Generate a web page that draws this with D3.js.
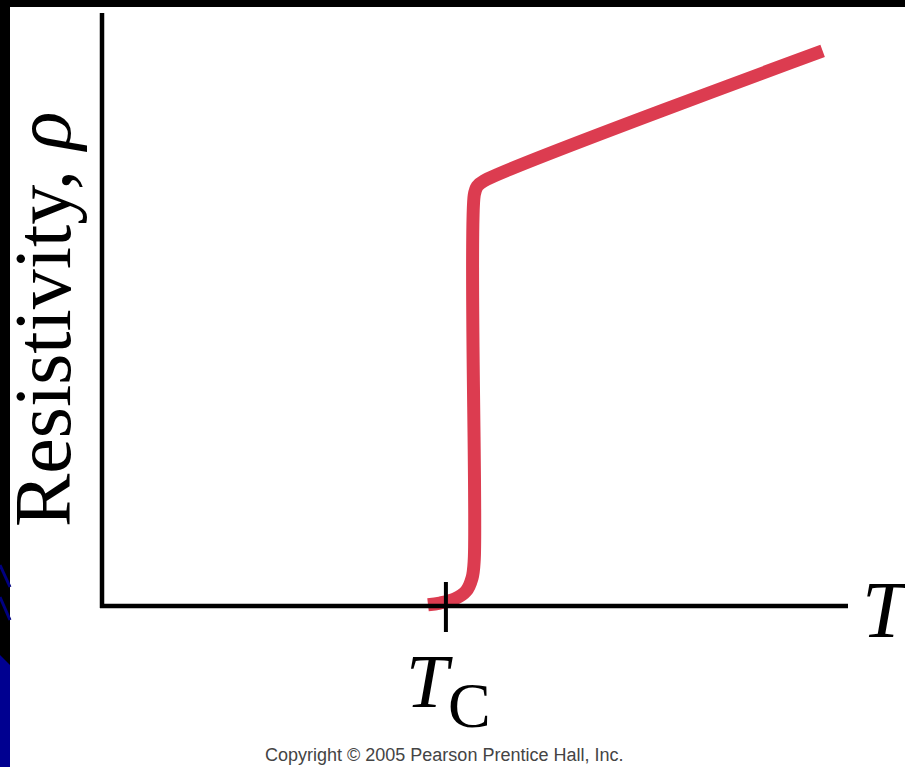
<!DOCTYPE html>
<html>
<head>
<meta charset="utf-8">
<script src="https://cdn.jsdelivr.net/npm/d3@7"></script>
<style>
  html, body { margin: 0; padding: 0; background: #000; }
  svg { display: block; }
</style>
</head>
<body>
<svg id="chart" width="905" height="767"></svg>
<script>
// Resistivity vs temperature for a superconductor (arbitrary units)
const curveT   = [4.37, 4.53, 4.73, 4.88, 4.96, 4.99, 4.99, 5.03, 5.12, 9.66];
const curveRho = [0.02, 0.05, 0.12, 0.25, 0.47, 0.78, 6.93, 7.08, 7.17, 9.36];
const tcValue = 4.61;
const xMax = 10;
const yMax = 10;
const yLabel = 'Resistivity, ';
const xLabel = 'T';
const tcLabel = 'T';
const tcSub = 'C';
const copyright = 'Copyright © 2005 Pearson Prentice Hall, Inc.';

const svg = d3.select('#chart');
const W = 905, H = 767;

// fondo: marco negro, panel blanco y restos de la diapositiva azul a la izquierda
svg.append('rect').attr('width', W).attr('height', H).attr('fill', '#000');
svg.append('rect').attr('x', 10).attr('y', 7).attr('width', W - 10).attr('height', H - 7).attr('fill', '#fff');
svg.append('path').attr('d', 'M0,655 L10,665 L10,767 L0,767 Z').attr('fill', '#000090');
svg.append('path').attr('d', 'M0,565 L10,587').attr('stroke', '#000080').attr('stroke-width', 3);
svg.append('path').attr('d', 'M0,597 L10,620').attr('stroke', '#000080').attr('stroke-width', 3);

const x = d3.scaleLinear().domain([0, xMax]).range([102, 848]);
const y = d3.scaleLinear().domain([0, yMax]).range([606, 13]);

// curva roja
const pts = curveT.map((t, i) => [t, curveRho[i]]);
const line = d3.line()
  .x(d => x(d[0]))
  .y(d => y(d[1]))
  .curve(d3.curveCatmullRom.alpha(0.5));
svg.append('path')
  .attr('d', line(pts))
  .attr('fill', 'none')
  .attr('stroke', '#dc3c50')
  .attr('stroke-width', 13)
  .attr('stroke-linejoin', 'round');

// ejes
const axisColor = '#000';
svg.append('line')
  .attr('x1', x(0)).attr('x2', x(0))
  .attr('y1', y(yMax)).attr('y2', y(0) + 2)
  .attr('stroke', axisColor).attr('stroke-width', 4.5);
svg.append('line')
  .attr('x1', x(0) - 2).attr('x2', x(xMax))
  .attr('y1', y(0)).attr('y2', y(0))
  .attr('stroke', axisColor).attr('stroke-width', 4.5);
// marca de Tc
svg.append('line')
  .attr('x1', x(tcValue)).attr('x2', x(tcValue))
  .attr('y1', y(0) - 24).attr('y2', y(0) + 26)
  .attr('stroke', axisColor).attr('stroke-width', 4);

// textos
const serif = '"Liberation Serif", "Times New Roman", serif';
const yl = svg.append('text')
  .attr('transform', 'translate(70,527) rotate(-90)')
  .attr('font-family', serif)
  .attr('font-size', 80)
  .attr('fill', '#000');
yl.append('tspan').text(yLabel);
yl.append('tspan').attr('font-style', 'italic').text('ρ');

svg.append('text')
  .attr('x', 862).attr('y', 637)
  .attr('font-family', serif)
  .attr('font-style', 'italic')
  .attr('font-size', 80)
  .attr('fill', '#000')
  .text(xLabel);

svg.append('text')
  .attr('x', x(tcValue) - 40).attr('y', 707)
  .attr('font-family', serif)
  .attr('font-style', 'italic')
  .attr('font-size', 76)
  .attr('fill', '#000')
  .text(tcLabel);
svg.append('text')
  .attr('x', x(tcValue) + 2).attr('y', 727)
  .attr('font-family', serif)
  .attr('font-size', 64)
  .attr('fill', '#000')
  .text(tcSub);

svg.append('text')
  .attr('x', 265).attr('y', 761)
  .attr('font-family', '"Liberation Sans", Arial, sans-serif')
  .attr('font-size', 18)
  .attr('fill', '#444')
  .text(copyright);
</script>
</body>
</html>
